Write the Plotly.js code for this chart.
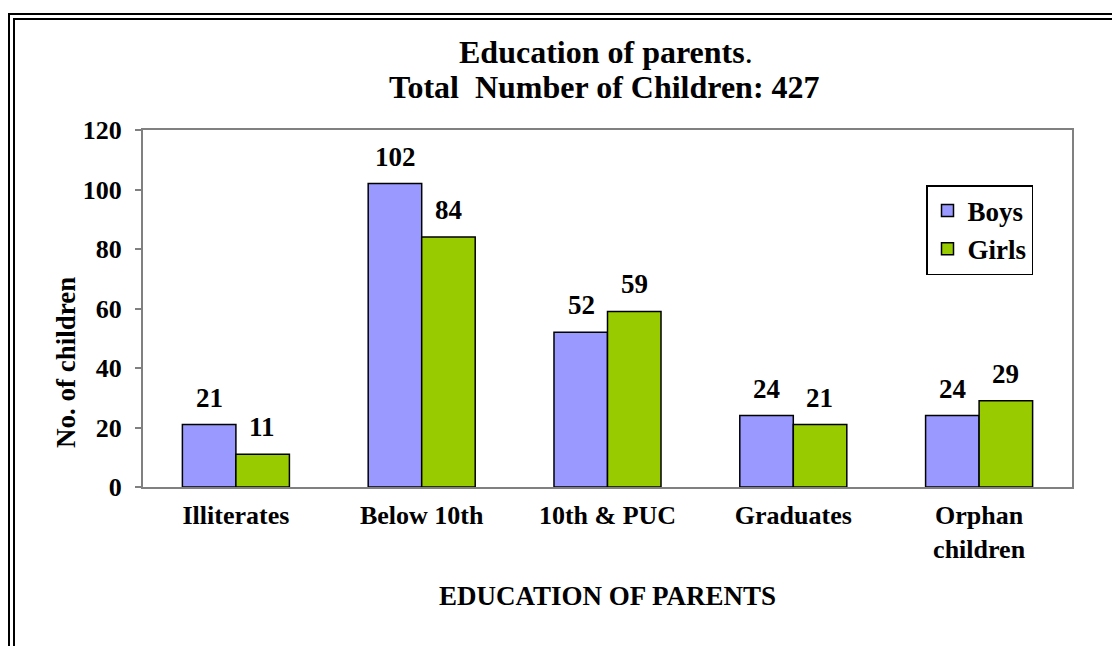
<!DOCTYPE html>
<html>
<head>
<meta charset="utf-8">
<script src="https://cdn.plot.ly/plotly-3.0.1.min.js"></script>
<style>
  body { margin: 0; background: #fff; }
  #frame { position: absolute; left: 8px; top: 13px; width: 1200px; height: 700px;
           border-left: 7px double #000; border-top: 7px double #000; pointer-events: none; }
  #chart { width: 1112px; height: 646px; }
</style>
</head>
<body>
<div id="chart"></div>
<div id="frame"></div>
<script>
const categories = ['Illiterates', 'Below 10th', '10th &amp; PUC', 'Graduates', 'Orphan<br>children'];
const boys = [21, 102, 52, 24, 24];
const girls = [11, 84, 59, 21, 29];

const serif = '"Liberation Serif", "Times New Roman", serif';

const traces = [
  {
    type: 'bar', name: 'Boys', x: categories, y: boys,
    marker: {color: '#9999FF', line: {color: '#000', width: 1.5}}
  },
  {
    type: 'bar', name: 'Girls', x: categories, y: girls,
    marker: {color: '#99CC00', line: {color: '#000', width: 1.5}}
  }
];

// plot area in pixels, used to place title and y title as paper annotations
const mL = 143, mR = 40, mT = 130, mB = 159;
const plotW = 1112 - mL - mR, plotH = 646 - mT - mB;
const px = x => (x - mL) / plotW;
const py = y => (646 - mB - y) / plotH;

// value labels above each bar
const annotations = [];
[boys, girls].forEach((vals, s) => {
  vals.forEach((v, i) => {
    annotations.push({
      x: categories[i], y: v, xref: 'x', yref: 'y',
      text: '<b>' + v + '</b>', showarrow: false,
      xshift: s === 0 ? -26.5 : 26.5, yshift: 10, yanchor: 'bottom',
      font: {family: serif, size: 27, color: '#000'}
    });
  });
});

// title lines and y title
const centered = {xref: 'paper', yref: 'paper', xanchor: 'center', yanchor: 'middle', showarrow: false};
annotations.push(
  {...centered, x: px(606), y: py(52),
   text: '<b>Education of parents</b>.', font: {family: serif, size: 32, color: '#000'}},
  {...centered, x: px(604), y: py(87),
   text: '<b>Total  Number of Children: 427</b>', font: {family: serif, size: 32, color: '#000'}},
  {...centered, x: px(66), y: py(363), textangle: -90,
   text: '<b>No. of children</b>', font: {family: serif, size: 27, color: '#000'}}
);

const layout = {
  width: 1112, height: 646,
  margin: {l: mL, r: mR, t: mT, b: mB},
  paper_bgcolor: '#fff', plot_bgcolor: '#fff',
  font: {family: serif, color: '#000'},
  barmode: 'group', bargap: 0.424, bargroupgap: 0,
  xaxis: {
    showgrid: false, zeroline: false, ticks: '',
    showline: true, linecolor: '#808080', linewidth: 2, mirror: true,
    tickfont: {family: serif, size: 26, weight: 'bold', color: '#000'},
    ticklabelstandoff: 4,
    title: {text: '<b>EDUCATION OF PARENTS</b>', standoff: 23,
            font: {family: serif, size: 27, color: '#000'}}
  },
  yaxis: {
    range: [0, 120], dtick: 20, showgrid: false, zeroline: false,
    showline: true, linecolor: '#808080', linewidth: 2, mirror: true,
    ticks: 'outside', ticklen: 6, tickcolor: '#808080', tickwidth: 2,
    tickfont: {family: serif, size: 26, weight: 'bold', color: '#000'},
    ticklabelstandoff: 8
  },
  showlegend: true,
  legend: {
    xref: 'paper', yref: 'paper', xanchor: 'left', yanchor: 'top',
    x: px(926), y: py(185),
    bordercolor: '#000', borderwidth: 1.5, bgcolor: '#fff',
    font: {family: serif, size: 27, weight: 'bold', color: '#000'},
    itemwidth: 30, tracegroupgap: 0
  },
  annotations: annotations
};

Plotly.newPlot('chart', traces, layout, {displayModeBar: false, staticPlot: true});
</script>
</body>
</html>
